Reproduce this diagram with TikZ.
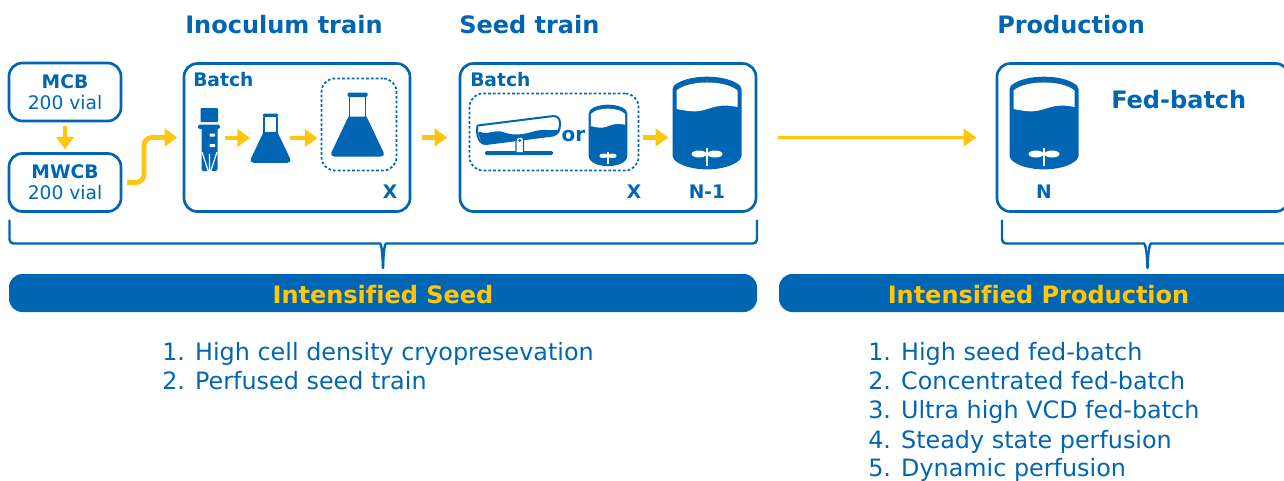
\documentclass[tikz,border=0pt]{standalone}
\usepackage{fontspec}
\setmainfont[Ligatures=NoCommon]{DejaVu Sans}
\usetikzlibrary{arrows.meta,calc}
\definecolor{bl}{HTML}{0066B3}
\definecolor{yl}{HTML}{FFC60B}
\newcommand\fs[1]{\fontsize{#1}{#1}\selectfont}
\tikzset{
 boxn/.style={draw=bl,line width=2pt,rounded corners=10pt,fill=white,outer sep=0pt,inner sep=0pt,text=bl,align=center},
 dashn/.style={draw=bl,line width=1.3pt,rounded corners=10pt,dash pattern=on 2pt off 1.6pt,outer sep=0pt,inner sep=0pt},
 band/.style={fill=bl,rounded corners=10pt,minimum height=28.5pt,outer sep=0pt,inner sep=0pt,text=yl,font=\fs{18}\bfseries},
 head/.style={text=bl,anchor=base west,inner sep=0pt,font=\fs{18}\bfseries},
 lbl/.style={text=bl,inner sep=0pt,font=\fs{14}\bfseries},
 item/.style={text=bl,anchor=base west,inner sep=0pt,font=\fs{17.9}},
 ghost/.style={inner sep=0pt,outer sep=0pt,minimum height=30pt},
 arr/.style={draw=yl,line width=3.2pt,-{Triangle[length=9.5pt,width=13pt]}},
 brc/.style={draw=bl,line width=1.8pt,line cap=round},
 reactor/.pic={
  \fill[bl,rounded corners=1.5pt] (-34.5,10) .. controls (-20,-3.3) and (20,-3.3) .. (34.5,10) -- (34.5,81) .. controls (20,95.7) and (-20,95.7) .. (-34.5,81) -- cycle;
  \fill[white] (-30.5,13.5) .. controls (-18,2.8) and (18,2.8) .. (30.5,13.5) -- (30.5,30) .. controls (15,27) and (10,29) .. (-3,33) .. controls (-12,35.5) and (-20,34) .. (-30.5,32) -- cycle;
  \fill[white] (-8,77) ellipse [x radius=7.5,y radius=3.5];
  \fill[white] (8,77) ellipse [x radius=7.5,y radius=3.5];
  \fill[white] (-1,71) rectangle (1,89);
 },
 flask/.pic={
  \fill[bl,rounded corners=1pt] (-10,0) rectangle (10,4.5);
  \draw[bl,line width=1.4pt] (-8,4) -- (-8,25) (8,4) -- (8,25);
  \fill[bl] (-9,24) -- (9,24) [rounded corners=3.5pt] -- (28,64) -- (-28,64) [sharp corners] -- cycle;
 },
}
\begin{document}
\begin{tikzpicture}[x=0.75pt,y=-0.75pt]
\useasboundingbox (0,0) rectangle (1284,480);
\clip (0,0) rectangle (1284,480);
% headings
\node[head] (h1) at (185,33) {Inoculum train};
\node[head] (h2) at (459,33) {Seed train};
\node[head] (h3) at (997,33) {Production};
% boxes
\node[boxn,minimum width=84pt,minimum height=43.5pt,font=\fs{14}] (mcb) at (65,92) {{\fs{14}\bfseries MCB}\\[2pt]200 vial};
\node[boxn,minimum width=84pt,minimum height=43.5pt,font=\fs{14}] (mwcb) at (65,182.5) {{\fs{14}\bfseries MWCB}\\[2pt]200 vial};
\node[boxn,minimum width=169.5pt,minimum height=111pt] (inoc) at (297,137.5) {};
\node[boxn,minimum width=222pt,minimum height=111pt] (seed) at (608,137.5) {};
\node[boxn,minimum width=219pt,minimum height=111pt] (prod) at (1143,137.5) {};
\node[dashn,minimum width=56.25pt,minimum height=69pt] (dasha) at (359,124.5) {};
\node[dashn,minimum width=126.75pt,minimum height=57.75pt] (dashb) at (554,132) {};
% labels
\node[lbl,anchor=base west] (b1) at (193,86) {Batch};
\node[lbl,anchor=base west] (b2) at (470,86) {Batch};
\node[lbl] (x1) at (390,192) {X};
\node[lbl] (x2) at (634,191.5) {X};
\node[lbl] (n1) at (707,191.5) {N-1};
\node[lbl] (n) at (1044,191.5) {N};
\node[lbl,font=\fs{15}\bfseries] (or) at (573.5,136.5) {or};
\node[text=bl,inner sep=0pt,font=\fs{18}\bfseries,anchor=base west] (fb) at (1111,108) {Fed-batch};
% vial icon
\node[ghost,minimum width=24pt] (vial) at (209,138) {};
\fill[bl,rounded corners=0.6pt] (200.5,108) rectangle (218,122);
\fill[bl,rounded corners=1.2pt] (198,124.5) rectangle (220,129);
\fill[bl,rounded corners=1.5pt] (201.5,127) rectangle (217.5,171);
\fill[white,rounded corners=0.5pt] (209.5,133.5) rectangle (215,136.5);
\fill[white,rounded corners=0.5pt] (209.5,144) rectangle (215,147);
\draw[white,line width=0.9pt] (202,152) -- (208.5,172) (217,152) -- (210.5,172) (209.5,154) -- (209.5,172);
% flasks
\node[ghost,minimum width=30pt] (fsmall) at (270,138) {};
\pic[scale=.77] at (270.5,113.5) {flask};
\pic at (357.5,92.5) {flask};
% rocker bag
\node[ghost,minimum width=60pt] (bag) at (519,135) {};
\fill[bl,rounded corners=1pt] (485,151) rectangle (553,155);
\fill[bl,rounded corners=2pt] (477.5,131) .. controls (488,135) and (495,130) .. (503,132) .. controls (515,136) and (525,134) .. (535,131) .. controls (545,129) and (552,131) .. (559,129) -- (557,135) -- (482,144.5) -- cycle;
\draw[bl,line width=1.5pt,rounded corners=3pt] (477.5,125.5) -- (557.5,115.5) .. controls (560.5,122) and (560,128) .. (557,135) -- (482,144.5) .. controls (478,138) and (476,132) .. (477.5,125.5);
\draw[bl,line width=1.1pt,fill=white,rounded corners=2pt] (516,152) -- (516,137.5) -- (523.5,136.5) -- (523.5,152);
\fill[bl] (519.7,140.5) circle (1.6);
% reactors
\node[ghost,minimum width=51.75pt] (rn1) at (707,138) {};
\node[ghost,minimum width=29pt] (rx) at (608,138) {};
\node[ghost,minimum width=51.75pt] (rn) at (1044,138) {};
\pic at (707,77) {reactor};
\pic[xscale=.56,yscale=.66] at (608,105) {reactor};
\pic at (1044,77) {reactor};
% connectors
\draw[arr,shorten <=4pt,shorten >=3pt] (mcb.south) -- (mwcb.north);
\coordinate (c1) at (144,182.5);
\coordinate (c2) at (144,137.5);
\draw[arr,line width=3.6pt,rounded corners=6pt,shorten <=4.5pt,shorten >=5pt] (mwcb.east) -- (c1) -- (c2) -- (inoc.west);
\draw[arr] (vial.east) -- (fsmall.west);
\draw[arr] (fsmall.east) -- ($(fsmall.east -| dasha.west)+(-4,0)$);
\draw[arr,shorten <=9pt,shorten >=9.5pt] (inoc.east) -- (seed.west);
\draw[arr,shorten >=3.2pt,shorten <=3.5pt] (dashb.east |- seed.center) -- (rn1.west |- seed.center);
\draw[arr,line width=2.8pt,shorten <=16.5pt,shorten >=15.5pt] (seed.east) -- (prod.west);
% braces
\coordinate (bt1) at (383,268);
\coordinate (bt2) at (1147.5,268);
\draw[brc,rounded corners=3pt] (9.5,220.5) -- (9.5,243.5) -- (376,243.5) .. controls (381,243.5) and (382.5,250) .. (bt1);
\draw[brc,rounded corners=3pt] (757,220.5) -- (757,243.5) -- (390,243.5) .. controls (385,243.5) and (383.5,250) .. (bt1);
\draw[brc,rounded corners=3pt] (1002,220.5) -- (1002,243.5) -- (1140,243.5) .. controls (1145,243.5) and (1147,250) .. (bt2);
\draw[brc,rounded corners=3pt] (1293,220.5) -- (1293,243.5) -- (1155,243.5) .. controls (1150,243.5) and (1148,250) .. (bt2);
% bands
\node[band,minimum width=561pt] (seedband) at (383,293) {\raisebox{-7.7pt}[0pt][0pt]{Intensified Seed}};
\node[band,minimum width=389.25pt] (prodband) at (1038.5,293) {\raisebox{-7.7pt}[0pt][0pt]{Intensified Production}};
% lists
\node[item] (l1) at (162,360) {1. High cell density cryopresevation};
\node[item] (l2) at (162,389.5) {2. Perfused seed train};
\node[item] (r1) at (868,360) {1. High seed fed-batch};
\node[item] (r2) at (868,389.5) {2. Concentrated fed-batch};
\node[item] (r3) at (868,418.5) {3. Ultra high VCD fed-batch};
\node[item] (r4) at (868,448) {4. Steady state perfusion};
\node[item] (r5) at (868,476) {5. Dynamic perfusion};
\end{tikzpicture}
\end{document}
